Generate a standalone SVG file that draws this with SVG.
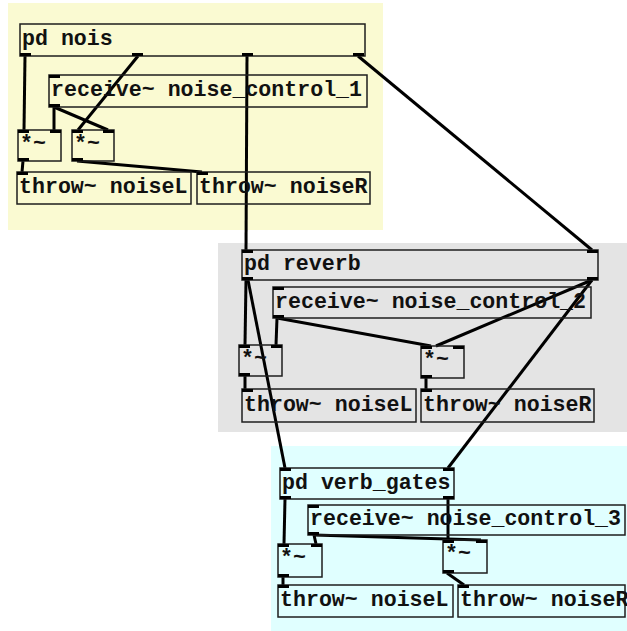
<svg xmlns="http://www.w3.org/2000/svg" width="627" height="631" viewBox="0 0 627 631">
<style>
.box{fill:none;stroke:#1e1e1e;stroke-width:1.5}
.t{font-family:"Liberation Mono","Courier New",monospace;font-weight:bold;font-size:21.6px;fill:#111}
.io{fill:#000}
.c line{stroke:#000;stroke-width:3;stroke-linecap:butt}
</style>
<rect x="8" y="3" width="375" height="227" fill="#fafad2"/>
<rect x="218" y="243" width="409" height="189" fill="#e4e4e4"/>
<rect x="271" y="446" width="356" height="185" fill="#e0ffff"/>

<g class="c" id="connectors">
<line x1="25" y1="56" x2="24" y2="130"/>
<line x1="138" y1="56" x2="78" y2="130"/>
<line x1="247" y1="56" x2="246" y2="250"/>
<line x1="358" y1="56" x2="592" y2="250"/>
<line x1="54" y1="107" x2="54" y2="130"/>
<line x1="54" y1="107" x2="108" y2="130"/>
<line x1="23" y1="161" x2="22" y2="172"/>
<line x1="77" y1="161" x2="202" y2="172"/>
<line x1="246" y1="280" x2="245" y2="345"/>
<line x1="248" y1="280" x2="285" y2="468"/>
<line x1="592" y1="280" x2="436" y2="346"/>
<line x1="592" y1="280" x2="448" y2="468"/>
<line x1="277" y1="318" x2="276" y2="345"/>
<line x1="277" y1="318" x2="431" y2="346"/>
<line x1="245" y1="376" x2="245" y2="389"/>
<line x1="426" y1="378" x2="426" y2="389"/>
<line x1="285" y1="499" x2="284" y2="544"/>
<line x1="448" y1="499" x2="448" y2="540"/>
<line x1="314" y1="535" x2="316" y2="544"/>
<line x1="314" y1="535" x2="481" y2="540"/>
<line x1="283" y1="577" x2="283" y2="585"/>
<line x1="447" y1="573" x2="464" y2="585"/>
</g>

<g id="pd_nois">
<rect class="box" x="20" y="24" width="345" height="32"/>
<rect class="io" x="20" y="53" width="11" height="3"/>
<rect class="io" x="132" y="53" width="11" height="3"/>
<rect class="io" x="242" y="53" width="11" height="3"/>
<rect class="io" x="353" y="53" width="11" height="3"/>
<text class="t" x="22" y="45">pd nois</text>
</g>
<g id="receive_1">
<rect class="box" x="49" y="75" width="318" height="32"/>
<rect class="io" x="49" y="75" width="11" height="3"/>
<rect class="io" x="49" y="104" width="11" height="3"/>
<text class="t" x="51" y="96">receive~ noise_control_1</text>
</g>
<g id="mul_1a">
<rect class="box" x="18" y="130" width="43" height="31"/>
<rect class="io" x="18" y="130" width="11" height="3"/>
<rect class="io" x="50" y="130" width="11" height="3"/>
<rect class="io" x="18" y="158" width="11" height="3"/>
<text class="t" x="20" y="150">*~</text>
</g>
<g id="mul_1b">
<rect class="box" x="72" y="130" width="42" height="31"/>
<rect class="io" x="72" y="130" width="11" height="3"/>
<rect class="io" x="103" y="130" width="11" height="3"/>
<rect class="io" x="72" y="158" width="11" height="3"/>
<text class="t" x="74" y="150">*~</text>
</g>
<g id="throwL_1">
<rect class="box" x="17" y="172" width="174" height="32"/>
<rect class="io" x="17" y="172" width="11" height="3"/>
<text class="t" x="19" y="193">throw~ noiseL</text>
</g>
<g id="throwR_1">
<rect class="box" x="197" y="172" width="173" height="32"/>
<rect class="io" x="197" y="172" width="11" height="3"/>
<text class="t" x="199" y="193">throw~ noiseR</text>
</g>

<g id="pd_reverb">
<rect class="box" x="242" y="250" width="356" height="30"/>
<rect class="io" x="242" y="250" width="11" height="3"/>
<rect class="io" x="587" y="250" width="11" height="3"/>
<rect class="io" x="242" y="277" width="11" height="3"/>
<rect class="io" x="587" y="277" width="11" height="3"/>
<text class="t" x="244" y="270">pd reverb</text>
</g>
<g id="receive_2">
<rect class="box" x="273" y="287" width="318" height="31"/>
<rect class="io" x="273" y="287" width="11" height="3"/>
<rect class="io" x="273" y="315" width="11" height="3"/>
<text class="t" x="275" y="308">receive~ noise_control_2</text>
</g>
<g id="mul_2a">
<rect class="box" x="239" y="345" width="43" height="31"/>
<rect class="io" x="239" y="345" width="11" height="3"/>
<rect class="io" x="271" y="345" width="11" height="3"/>
<rect class="io" x="239" y="373" width="11" height="3"/>
<text class="t" x="241" y="365">*~</text>
</g>
<g id="mul_2b">
<rect class="box" x="421" y="346" width="43" height="32"/>
<rect class="io" x="421" y="346" width="11" height="3"/>
<rect class="io" x="453" y="346" width="11" height="3"/>
<rect class="io" x="421" y="375" width="11" height="3"/>
<text class="t" x="423" y="366">*~</text>
</g>
<g id="throwL_2">
<rect class="box" x="242" y="389" width="174" height="33"/>
<rect class="io" x="242" y="389" width="11" height="3"/>
<text class="t" x="244" y="411">throw~ noiseL</text>
</g>
<g id="throwR_2">
<rect class="box" x="421" y="389" width="173" height="33"/>
<rect class="io" x="421" y="389" width="11" height="3"/>
<text class="t" x="423" y="411">throw~ noiseR</text>
</g>

<g id="pd_verb_gates">
<rect class="box" x="280" y="468" width="174" height="31"/>
<rect class="io" x="280" y="468" width="11" height="3"/>
<rect class="io" x="443" y="468" width="11" height="3"/>
<rect class="io" x="280" y="496" width="11" height="3"/>
<rect class="io" x="443" y="496" width="11" height="3"/>
<text class="t" x="282" y="489">pd verb_gates</text>
</g>
<g id="receive_3">
<rect class="box" x="308" y="505" width="317" height="30"/>
<rect class="io" x="308" y="505" width="11" height="3"/>
<rect class="io" x="308" y="532" width="11" height="3"/>
<text class="t" x="310" y="525">receive~ noise_control_3</text>
</g>
<g id="mul_3a">
<rect class="box" x="278" y="544" width="44" height="33"/>
<rect class="io" x="278" y="544" width="11" height="3"/>
<rect class="io" x="311" y="544" width="11" height="3"/>
<rect class="io" x="278" y="574" width="11" height="3"/>
<text class="t" x="280" y="564">*~</text>
</g>
<g id="mul_3b">
<rect class="box" x="443" y="540" width="44" height="33"/>
<rect class="io" x="443" y="540" width="11" height="3"/>
<rect class="io" x="476" y="540" width="11" height="3"/>
<rect class="io" x="443" y="570" width="11" height="3"/>
<text class="t" x="445" y="560">*~</text>
</g>
<g id="throwL_3">
<rect class="box" x="278" y="585" width="175" height="32"/>
<rect class="io" x="278" y="585" width="11" height="3"/>
<text class="t" x="280" y="606">throw~ noiseL</text>
</g>
<g id="throwR_3">
<rect class="box" x="458" y="585" width="167" height="32"/>
<rect class="io" x="458" y="585" width="11" height="3"/>
<text class="t" x="460" y="606">throw~ noiseR</text>
</g>
</svg>
